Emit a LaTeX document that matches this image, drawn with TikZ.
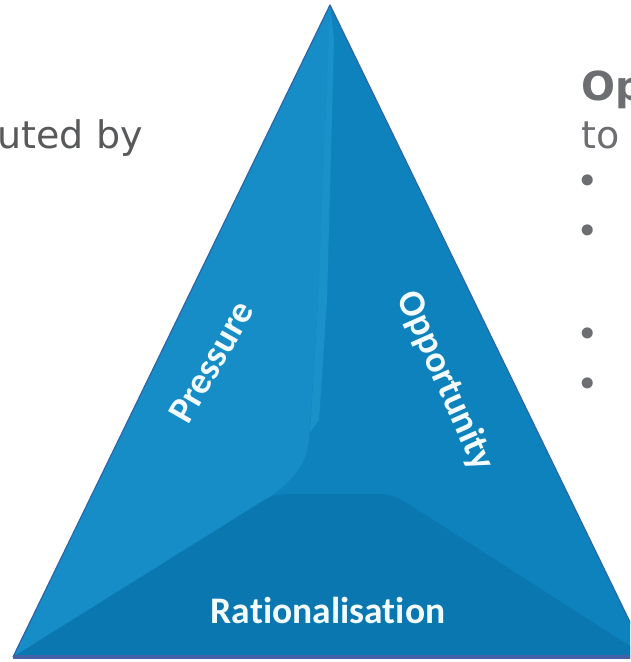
\documentclass[tikz,border=0pt]{standalone}
\usepackage{fontspec}
\setmainfont{DejaVu Sans}
\newfontfamily\labelfont[Ligatures={NoCommon,NoRequired,NoContextual}]{Carlito}
\definecolor{faceR}{HTML}{0E82BC}
\definecolor{faceL}{HTML}{168DC6}
\definecolor{faceB}{HTML}{0A77B0}
\definecolor{bevel}{HTML}{1A92C9}
\definecolor{edgecol}{HTML}{2C66A8}
\definecolor{basecol}{HTML}{4460A6}
\definecolor{labelwhite}{HTML}{F2FBFF}
\definecolor{bodygray}{HTML}{58595B}
\definecolor{headgray}{HTML}{6D6E71}
\begin{document}
\begin{tikzpicture}[x=1pt,y=-1pt,
  lbl/.style={font=\labelfont\bfseries\fontsize{37.5}{40}\selectfont, text=labelwhite, inner sep=0pt, anchor=base},
  body/.style={font=\fontsize{38}{46}\selectfont, text=bodygray, inner sep=0pt},
  head/.style={font=\bfseries\fontsize{40}{48}\selectfont, text=headgray, inner sep=0pt},
  bullet/.style={font=\fontsize{38}{46}\selectfont, text=headgray, inner sep=0pt, anchor=center}]
\useasboundingbox (0,0) rectangle (630,662);
\clip (0,0) rectangle (630,662);
\fill[white] (0,0) rectangle (630,662);
% triangle corners
\coordinate (A) at (330,5);
\coordinate (BL) at (13,657);
\coordinate (BR) at (647,657);
% right face (whole triangle)
\fill[faceR] (A) -- (BR) -- (BL) -- cycle;
% left face
\fill[faceL] (A) -- (318,300) -- (309,440) .. controls (306,470) and (285,488) .. (258,504) -- (BL) -- cycle;
% bottom face
\fill[faceB] (BL) -- (258,504) .. controls (268,497) and (276,494) .. (290,494) -- (380,494) .. controls (392,494) and (400,499) .. (410,505) -- (BR) -- cycle;
% ridge bevel
\fill[bevel] (A) -- (334,40) -- (327,300) -- (319,420) -- (310,432) -- (318,300) -- cycle;
% outline
\draw[edgecol, line width=1.2pt, line join=round] (BL) -- (A) -- (BR);
\draw[basecol, line width=4pt] (BL) -- (BR);
% labels
\node[lbl, rotate=60] (pressure) at (221.7,368) {Pressure};
\node[lbl, rotate=-66] (opportunity) at (436,385) {Opportunity};
\node[lbl] (rational) at (328,623) {Rationalisation};
% surrounding text
\node[body, anchor=base east] (lefttext) at (143,148) {uted by};
\node[head, anchor=base west] (optitle) at (581,100) {Op};
\node[body, text=headgray, anchor=base west] (totext) at (581,148) {to};
\node[bullet] (b1) at (588,185) {•};
\node[bullet] (b2) at (588,235) {•};
\node[bullet] (b3) at (588,338) {•};
\node[bullet] (b4) at (588,388) {•};
\end{tikzpicture}
\end{document}
